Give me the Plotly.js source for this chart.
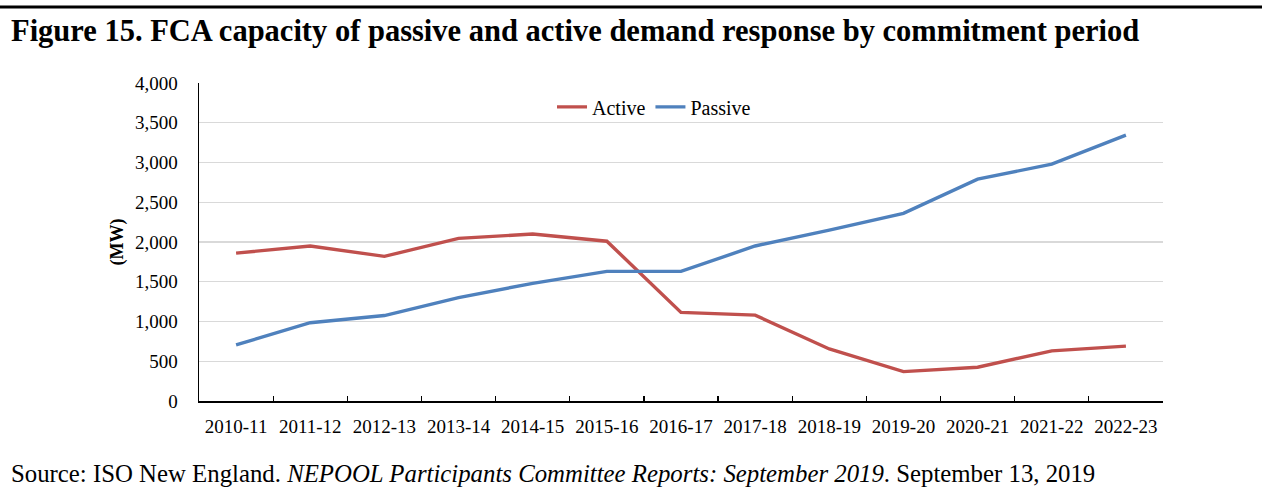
<!DOCTYPE html>
<html>
<head>
<meta charset="utf-8">
<script src="https://cdn.plot.ly/plotly-3.0.1.min.js"></script>
<style>
html,body{margin:0;padding:0;background:#fff;}
#chart{width:1262px;height:489px;}
</style>
</head>
<body>
<div id="chart"></div>
<script>
const periods = ["2010-11","2011-12","2012-13","2013-14","2014-15","2015-16","2016-17","2017-18","2018-19","2019-20","2020-21","2021-22","2022-23"];
const activeMW = [1860,1950,1820,2045,2100,2010,1115,1080,655,370,425,630,690];
const passiveMW = [705,985,1075,1300,1480,1630,1630,1950,2150,2360,2790,2980,3345];
const yTickVals = [0,500,1000,1500,2000,2500,3000,3500,4000];
const yTickText = ["0","500","1,000","1,500","2,000","2,500","3,000","3,500","4,000"];

const FONT = "Liberation Serif, Times New Roman, serif";

const traces = [
  {x: periods, y: activeMW, name: "Active", type: "scatter", mode: "lines",
   line: {color: "#C0504D", width: 3.4}},
  {x: periods, y: passiveMW, name: "Passive", type: "scatter", mode: "lines",
   line: {color: "#4F81BD", width: 3.4}}
];

const layout = {
  width: 1262, height: 489,
  paper_bgcolor: "#fff", plot_bgcolor: "#fff",
  margin: {l: 199, r: 99, t: 83, b: 88},
  font: {family: FONT, size: 19, color: "#000"},
  showlegend: true,
  legend: {orientation: "h", x: 0.472, y: 0.925, xanchor: "center", yanchor: "middle",
    font: {family: FONT, size: 20, color: "#000"}, bgcolor: "rgba(0,0,0,0)",
    traceorder: "normal"},
  xaxis: {type: "category", range: [-0.5, periods.length - 0.5], showgrid: false, showline: true,
    linecolor: "#000", linewidth: 1.5,
    ticks: "inside", ticklen: 5, tickcolor: "#000", tickwidth: 1.2, tickson: "boundaries",
    ticklabelstandoff: 8,
    tickfont: {family: FONT, size: 19, color: "#000"}, zeroline: false, fixedrange: true},
  yaxis: {range: [0, 4000], tickvals: yTickVals, ticktext: yTickText, showgrid: true,
    gridcolor: "#d9d9d9", gridwidth: 1.2, showline: true, linecolor: "#000", linewidth: 1.5,
    ticks: "", zeroline: false, tickfont: {family: FONT, size: 19, color: "#000"}, ticklabelstandoff: 16,
    title: {text: "<b>(MW)</b>", font: {family: FONT, size: 18, color: "#000"}, standoff: 6}}
};

layout.shapes = [
  {type: "line", xref: "paper", yref: "paper", x0: -199/964, x1: (1262-199)/964,
   y0: 1 + (83-7)/318, y1: 1 + (83-7)/318, line: {color: "#000", width: 3}}
];

layout.annotations = [
  {xref: "paper", yref: "paper", x: -190/964, y: 1 + (83-31)/318, xanchor: "left", yanchor: "middle",
   text: "<b>Figure 15. FCA capacity of passive and active demand response by commitment period</b>",
   showarrow: false, font: {family: FONT, size: 30.5, color: "#000"}},
  {xref: "paper", yref: "paper", x: -190/964, y: -(473-401)/318, xanchor: "left", yanchor: "middle",
   text: "Source: ISO New England. <i>NEPOOL Participants Committee Reports: September 2019</i>. September 13, 2019",
   showarrow: false, font: {family: FONT, size: 24.8, color: "#000"}}
];

Plotly.newPlot("chart", traces, layout, {displayModeBar: false, staticPlot: true});
</script>
</body>
</html>
